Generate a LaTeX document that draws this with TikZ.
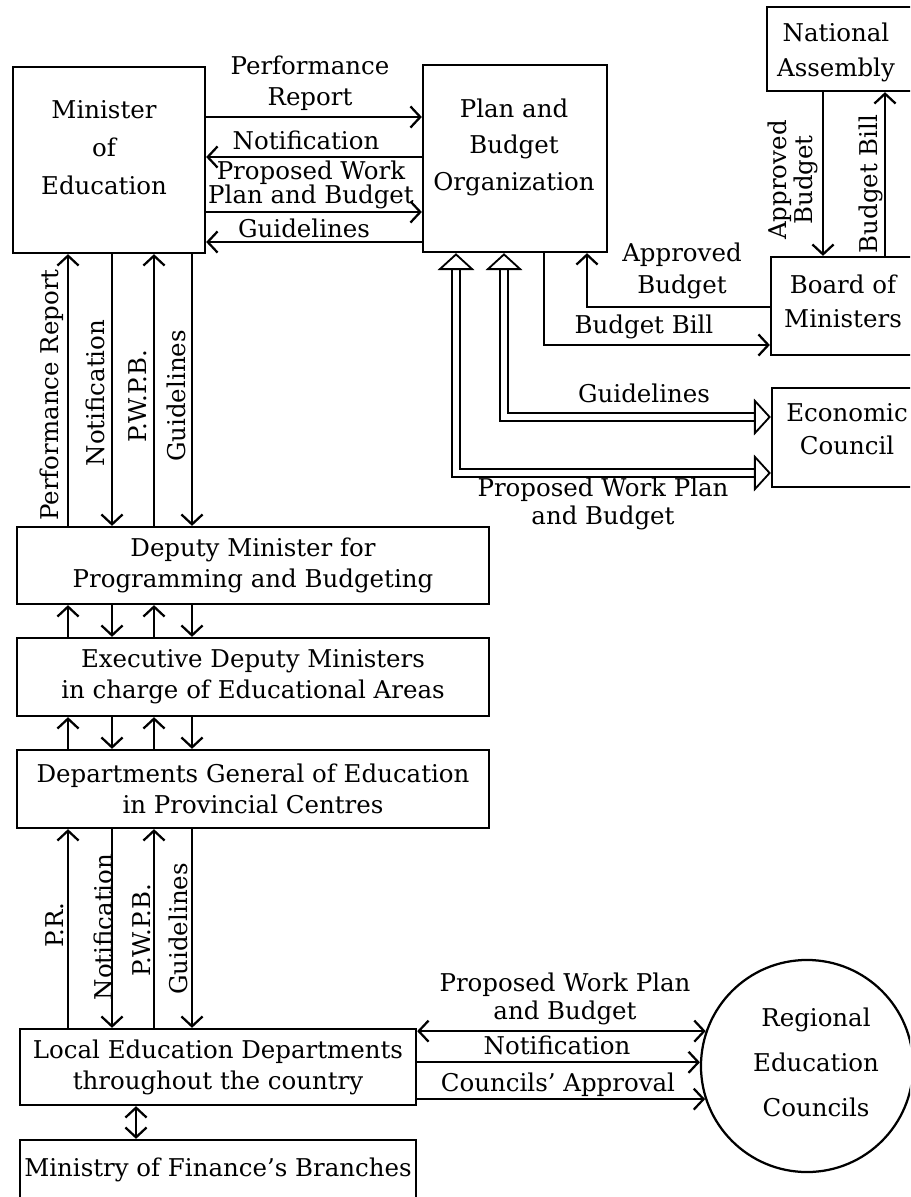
\documentclass[tikz,border=0pt]{standalone}
\usepackage{fontspec}
\setmainfont{DejaVu Serif}
\usetikzlibrary{arrows.meta}

\tikzset{
  box/.style={draw, line width=1.6pt, inner sep=0pt, align=center},
  lbl/.style={inner sep=0pt, align=center},
  vlbl/.style={lbl, rotate=90},
  flow/.style={line width=1.6pt, >={Straight Barb[length=7pt,width=15pt]}},
  wide/.style={line width=1.3pt, double, double distance=4.2pt,
    {Triangle[open,length=12pt,width=26pt]}-{Triangle[open,length=12pt,width=26pt]}},
}
\newcommand{\fs}[1]{\fontsize{17.4}{#1}\selectfont}

\begin{document}
\begin{tikzpicture}[x=0.025cm, y=-0.025cm, font=\fs{22}]
\useasboundingbox (0,0) rectangle (910,1197);
\clip (0,0) rectangle (910,1197);

% boxes
\node[box, minimum width=4.8cm, minimum height=4.65cm] (min) at (109,160) {};
\node[lbl, font=\fs{27}] (min-t) at (104,148) {Minister\\of\\Education};
\node[box, minimum width=4.6cm, minimum height=4.675cm] (pbo) at (515,158.5) {};
\node[lbl, font=\fs{26}] (pbo-t) at (514,147) {Plan and\\Budget\\Organization};
\node[box, minimum width=3.7cm, minimum height=2.1cm] (na) at (841,49) {};
\node[lbl, font=\fs{25}] (na-t) at (836,52) {National\\Assembly};
\node[box, minimum width=3.6cm, minimum height=2.45cm] (bom) at (843,306) {};
\node[lbl, font=\fs{24}] (bom-t) at (843,301) {Board of\\Ministers};
\node[box, minimum width=3.75cm, minimum height=2.475cm] (ec) at (847,437.5) {};
\node[lbl, font=\fs{23}] (ec-t) at (847,429) {Economic\\Council};
\node[box, minimum width=11.8cm, minimum height=1.925cm] (dm) at (253,565.5) {Deputy Minister for\\Programming and Budgeting};
\node[box, minimum width=11.8cm, minimum height=1.95cm] (edm) at (253,677) {Executive Deputy Ministers\\in charge of Educational Areas};
\node[box, minimum width=11.8cm, minimum height=1.95cm] (dg) at (253,789) {Departments General of Education\\in Provincial Centres};
\node[box, minimum width=9.9cm, minimum height=1.9cm] (led) at (218,1067) {Local Education Departments\\throughout the country};
\node[box, minimum width=9.9cm, minimum height=1.5cm] (mof) at (218,1170) {Ministry of Finance's Branches};
\node[box, circle, minimum size=5.3cm] (rec) at (807,1066) {};
\node[lbl, font=\fs{32}] (rec-t) at (816,1062) {Regional\\Education\\Councils};

% minister <-> plan and budget organization
\draw[flow,->] (min.east |- 0,117) -- (pbo.west |- 0,117);
\draw[flow,<-] (min.east |- 0,157) -- (pbo.west |- 0,157);
\draw[flow,->] (min.east |- 0,212) -- (pbo.west |- 0,212);
\draw[flow,<-] (min.east |- 0,242) -- (pbo.west |- 0,242);
\node[lbl] (l-pr) at (310,83) {Performance\\Report};
\node[lbl] (l-nt) at (306,140) {Notification};
\node[lbl, font=\fs{17}] (l-pw) at (311,185) {Proposed Work\\Plan and Budget};
\node[lbl] (l-gd) at (304,228) {Guidelines};

% national assembly and board of ministers
\draw[flow,->] (na.south -| 823,0) -- (bom.north -| 823,0);
\draw[flow,->] (bom.north -| 885,0) -- (na.south -| 885,0);
\node[vlbl, font=\fs{18}] (l-ab1) at (793,180) {Approved\\Budget};
\node[vlbl] (l-bb1) at (871,184) {Budget Bill};
\draw[flow,->] (bom.west |- 0,307) -| (pbo.south -| 587,0);
\draw[flow,->] (pbo.south -| 544,0) |- (bom.west |- 0,345);
\node[lbl, font=\fs{23}] (l-ab2) at (682,271) {Approved\\Budget};
\node[lbl] (l-bb2) at (644,327) {Budget Bill};

% economic council
\draw[wide] (pbo.south -| 504,0) |- (ec.west |- 0,417);
\draw[wide] (pbo.south -| 456,0) |- (ec.west |- 0,473);
\node[lbl] (l-gd2) at (644,393) {Guidelines};
\node[lbl, font=\fs{20}] (l-pw2) at (603,504) {Proposed Work Plan\\and Budget};

% down the hierarchy
\foreach \ua/\ub in {min/dm, dm/edm, edm/dg, dg/led}
  \foreach \x/\dir in {68/<-, 112/->, 154/<-, 192/->}
    \draw[flow,\dir] (\ua.south -| \x,0) -- (\ub.north -| \x,0);
\node[vlbl] (v-pr) at (52,395) {Performance Report};
\node[vlbl] (v-nt) at (95,393) {Notification};
\node[vlbl] (v-pw) at (138,396) {P.W.P.B.};
\node[vlbl] (v-gd) at (176,396) {Guidelines};
\node[vlbl] (w-pr) at (55,925) {P.R.};
\node[vlbl] (w-nt) at (103,927) {Notification};
\node[vlbl] (w-pw) at (142,930) {P.W.P.B.};
\node[vlbl] (w-gd) at (178,929) {Guidelines};

% local level
\draw[flow,<->] (led.south -| 136,0) -- (mof.north -| 136,0);
\draw[flow,<->] (led.east |- rec.161) -- (rec.161);
\draw[flow,->] (led.east |- rec.178) -- (rec.178);
\draw[flow,->] (led.east |- rec.198) -- (rec.198);
\node[lbl, font=\fs{20}] (l-pw3) at (565,999) {Proposed Work Plan\\and Budget};
\node[lbl] (l-nt3) at (557,1045) {Notification};
\node[lbl] (l-ca) at (558,1085) {Councils' Approval};
\end{tikzpicture}
\end{document}
